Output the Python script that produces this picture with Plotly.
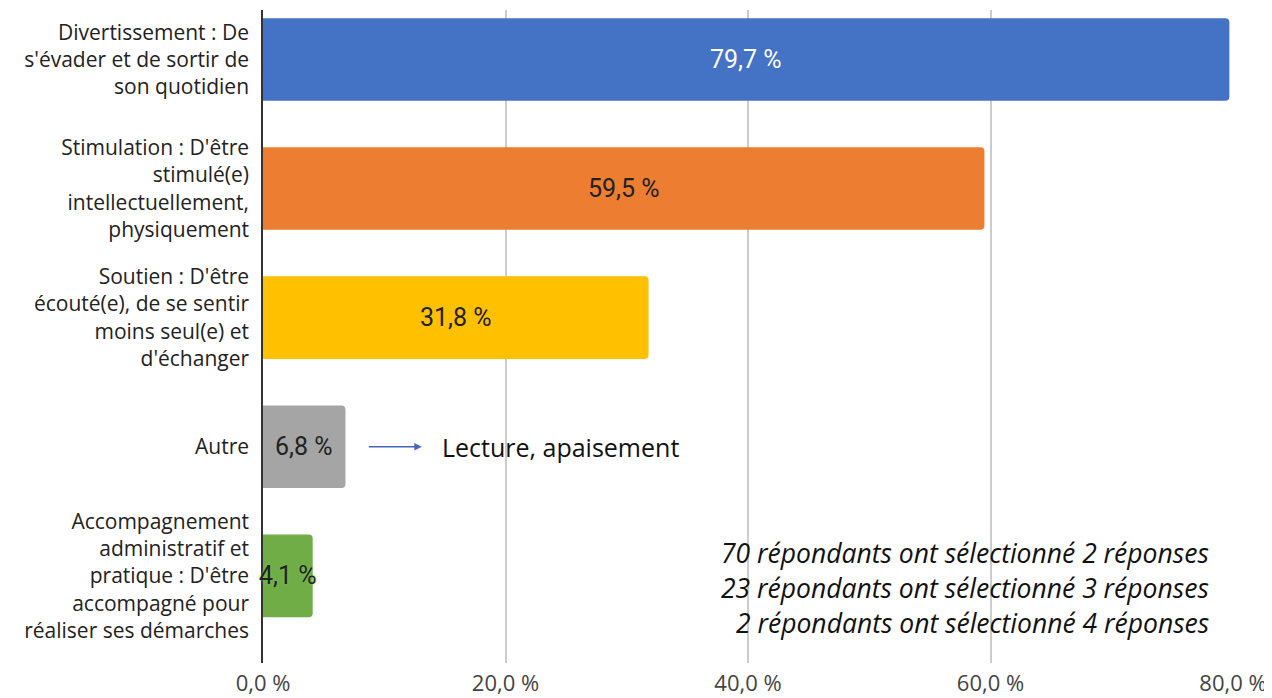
import plotly.graph_objects as go

categories = [
    "Divertissement : De<br>s'évader et de sortir de<br>son quotidien",
    "Stimulation : D'être<br>stimulé(e)<br>intellectuellement,<br>physiquement",
    "Soutien : D'être<br>écouté(e), de se sentir<br>moins seul(e) et<br>d'échanger",
    "Autre",
    "Accompagnement<br>administratif et<br>pratique : D'être<br>accompagné pour<br>réaliser ses démarches",
]
values = [79.7, 59.5, 31.8, 6.8, 4.1]
value_labels = ["79,7 %", "59,5 %", "31,8 %", "6,8 %", "4,1 %"]
colors = ["#4472C4", "#ED7D31", "#FFC000", "#A5A5A5", "#70AD47"]
label_colors = ["#FFFFFF", "#222222", "#222222", "#222222", "#222222"]
tick_vals = [0, 20, 40, 60, 80]
tick_text = ["0,0 %", "20,0 %", "40,0 %", "60,0 %", "80,0 %"]
note_lines = [
    "70 répondants ont sélectionné 2 réponses",
    "23 répondants ont sélectionné 3 réponses",
    "2 répondants ont sélectionné 4 réponses",
]
autre_note = "Lecture, apaisement"

# page body has an 8px margin: the figure is sized to fit the window
W, H = 1264, 690
ml, mr, mt, mb = 255, 39, 2, 35
pw, ph = W - ml - mr, H - mt - mb

fig = go.Figure()
fig.add_trace(go.Bar(
    x=values, y=categories, orientation="h",
    marker=dict(color=colors, line=dict(width=0), cornerradius=4),
    width=0.64, hoverinfo="skip",
))

for v, c, lab, lc in zip(values, categories, value_labels, label_colors):
    font = dict(family="Roboto, Arial", size=25, color=lc)
    if lab == "4,1 %":
        font["shadow"] = "0px 0px 3px #7CC44F"
    fig.add_annotation(x=v / 2, y=c, xref="x", yref="y", text=lab,
                       showarrow=False, font=font)

# Arrow and note for "Autre"
fig.add_annotation(x=13.1, y=categories[3], ax=8.6, ay=categories[3],
                   xref="x", yref="y", axref="x", ayref="y",
                   text="", showarrow=True, arrowhead=2, arrowsize=1,
                   arrowwidth=1.5, arrowcolor="#4466BB")
fig.add_annotation(x=14.6, y=categories[3], xref="x", yref="y",
                   text=autre_note, showarrow=False, xanchor="left",
                   font=dict(family="Open Sans, sans-serif", size=25, color="#111111"))

for i, line in enumerate(note_lines):
    fig.add_annotation(x=(1203 - ml) / pw, y=1 - (545 + 35 * i - mt) / ph,
                       xref="paper", yref="paper",
                       text="<i>" + line + "</i>", showarrow=False,
                       xanchor="right", yanchor="middle",
                       font=dict(family="Open Sans, sans-serif", size=26.5, color="#111111"))

fig.update_layout(
    width=W, height=H,
    margin=dict(l=ml, r=mr, t=mt, b=mb, autoexpand=False),
    plot_bgcolor="white", paper_bgcolor="white",
    showlegend=False,
    xaxis=dict(range=[0, 80], tickvals=tick_vals, ticktext=tick_text,
               showgrid=True, gridcolor="#CCCCCC", gridwidth=1.5,
               zeroline=False, showline=False, ticks="", automargin=False,
               ticklabelstandoff=5,
               tickfont=dict(family="Open Sans, sans-serif", size=22, color="#444444")),
    yaxis=dict(categoryorder="array", categoryarray=categories,
               range=[4.675, -0.383], showgrid=False, zeroline=False,
               showline=True, linecolor="#333333", linewidth=1.5,
               ticks="", ticklabelstandoff=8, automargin=False,
               tickfont=dict(family="Open Sans, sans-serif", size=21, color="#222222")),
)

fig.write_html("out.html")
